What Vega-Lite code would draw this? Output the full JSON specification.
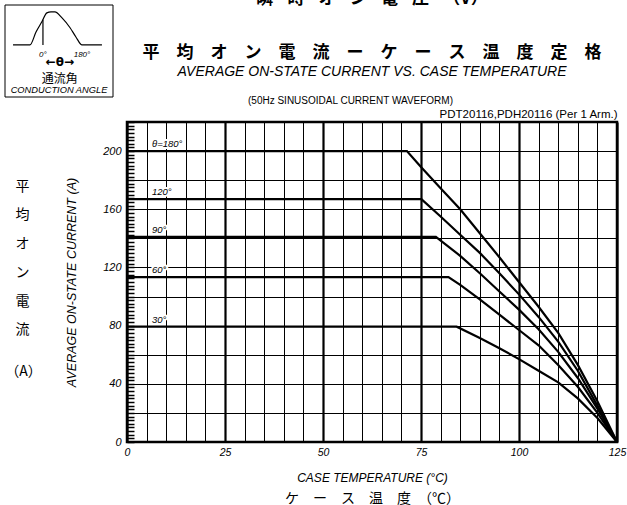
{
  "$schema": "https://vega.github.io/schema/vega-lite/v6.json",
  "width": 490,
  "height": 320,
  "autosize": {"type": "none"},
  "padding": {"left": 127, "top": 122, "right": 10, "bottom": 63},
  "background": "white",
  "config": {
    "view": {"stroke": "#000", "strokeWidth": 2.5},
    "font": "Liberation Sans",
    "axis": {"labelFont": "Liberation Sans", "titleFont": "Liberation Sans", "labelColor": "#000", "titleColor": "#000", "titleFontWeight": "normal"}
  },
  "title": {
    "text": ["瞬\u2002\u2004時\u2002\u2004オ\u2002\u2004ン\u2002\u2004電\u2002\u2004圧\u2002\u2004（V）\u3000\u3000\u3000", "\u3000\u2002平\u3000均\u3000オ\u3000ン\u3000電\u3000流\u3000ー\u3000ケ\u3000ー\u3000ス\u3000温\u3000度\u3000定\u3000格"],
    "subtitle": "AVERAGE ON-STATE CURRENT VS. CASE TEMPERATURE",
    "anchor": "middle",
    "frame": "group",
    "offset": -75,
    "font": "Noto Sans CJK JP",
    "fontSize": 17,
    "fontWeight": "bold",
    "lineHeight": 54,
    "color": "#000",
    "subtitleFont": "Liberation Sans",
    "subtitleFontSize": 14,
    "subtitleFontStyle": "italic",
    "subtitleColor": "#000",
    "subtitlePadding": 3
  },
  "datasets": {
    "curves": [
      {"angle": "θ=180°", "T": 0, "I": 200}, {"angle": "θ=180°", "T": 71.4, "I": 200}, {"angle": "θ=180°", "T": 75, "I": 189}, {"angle": "θ=180°", "T": 80, "I": 174.5}, {"angle": "θ=180°", "T": 85, "I": 160}, {"angle": "θ=180°", "T": 90, "I": 143.5}, {"angle": "θ=180°", "T": 95, "I": 127}, {"angle": "θ=180°", "T": 100, "I": 110}, {"angle": "θ=180°", "T": 105, "I": 93}, {"angle": "θ=180°", "T": 110, "I": 75}, {"angle": "θ=180°", "T": 115, "I": 53}, {"angle": "θ=180°", "T": 120, "I": 28}, {"angle": "θ=180°", "T": 125, "I": 0},
      {"angle": "120°", "T": 0, "I": 167}, {"angle": "120°", "T": 75.1, "I": 167}, {"angle": "120°", "T": 80, "I": 155}, {"angle": "120°", "T": 85, "I": 142.5}, {"angle": "120°", "T": 90, "I": 130}, {"angle": "120°", "T": 95, "I": 116}, {"angle": "120°", "T": 100, "I": 101.5}, {"angle": "120°", "T": 105, "I": 86}, {"angle": "120°", "T": 110, "I": 69}, {"angle": "120°", "T": 115, "I": 49}, {"angle": "120°", "T": 120, "I": 25}, {"angle": "120°", "T": 125, "I": 0},
      {"angle": "90°", "T": 0, "I": 141}, {"angle": "90°", "T": 78.8, "I": 141}, {"angle": "90°", "T": 85, "I": 128}, {"angle": "90°", "T": 90, "I": 116}, {"angle": "90°", "T": 95, "I": 103.5}, {"angle": "90°", "T": 100, "I": 91}, {"angle": "90°", "T": 105, "I": 77.5}, {"angle": "90°", "T": 110, "I": 62}, {"angle": "90°", "T": 115, "I": 44}, {"angle": "90°", "T": 120, "I": 23}, {"angle": "90°", "T": 125, "I": 0},
      {"angle": "60°", "T": 0, "I": 113.4}, {"angle": "60°", "T": 82, "I": 113.4}, {"angle": "60°", "T": 85, "I": 108}, {"angle": "60°", "T": 90, "I": 98}, {"angle": "60°", "T": 95, "I": 87.5}, {"angle": "60°", "T": 100, "I": 77}, {"angle": "60°", "T": 105, "I": 66.5}, {"angle": "60°", "T": 110, "I": 53}, {"angle": "60°", "T": 115, "I": 38}, {"angle": "60°", "T": 120, "I": 20}, {"angle": "60°", "T": 125, "I": 0},
      {"angle": "30°", "T": 0, "I": 79.3}, {"angle": "30°", "T": 84.1, "I": 79.3}, {"angle": "30°", "T": 90, "I": 71.5}, {"angle": "30°", "T": 95, "I": 64.5}, {"angle": "30°", "T": 100, "I": 57}, {"angle": "30°", "T": 105, "I": 49}, {"angle": "30°", "T": 110, "I": 41}, {"angle": "30°", "T": 115, "I": 30}, {"angle": "30°", "T": 120, "I": 16.5}, {"angle": "30°", "T": 125, "I": 0}
    ],
    "wave": [
      {"phase": -138, "amp": 0}, {"phase": -60, "amp": 0}, {"phase": -32, "amp": 0.39}, {"phase": -5, "amp": 0.7}, {"phase": 18, "amp": 0.97}, {"phase": 37, "amp": 1.0}, {"phase": 55, "amp": 1.0}, {"phase": 88, "amp": 0.82}, {"phase": 125, "amp": 0.52}, {"phase": 152, "amp": 0.24}, {"phase": 180, "amp": 0}, {"phase": 272, "amp": 0}
    ],
    "firing": [{"phase": 0, "amp": 0.76}],
    "iconText": [
      {"text": "0°", "role": "deg", "phase": 0, "amp": -0.3},
      {"text": "180°", "role": "deg", "phase": 180, "amp": -0.3},
      {"text": "←θ→", "role": "span", "phase": 78, "amp": -0.52},
      {"text": "通流角", "role": "jp", "phase": 78, "amp": -1.03},
      {"text": "CONDUCTION ANGLE", "role": "en", "phase": 74, "amp": -1.38}
    ]
  },
  "layer": [
    {
      "layer": [
        {
          "data": {"name": "curves"},
          "mark": {"type": "line", "color": "#000", "strokeWidth": 2.2},
          "encoding": {
            "x": {
              "field": "T", "type": "quantitative",
              "scale": {"domain": [0, 125], "nice": false},
              "axis": {
                "orient": "bottom",
                "values": [0, 5, 10, 15, 20, 25, 30, 35, 40, 45, 50, 55, 60, 65, 70, 75, 80, 85, 90, 95, 100, 105, 110, 115, 120, 125],
                "grid": true, "gridColor": "#000",
                "gridWidth": {"condition": {"test": "datum.value % 25 === 0", "value": 2.2}, "value": 1},
                "ticks": false, "domain": false,
                "labelExpr": "datum.value % 25 === 0 ? datum.label : ''",
                "labelFontStyle": "italic", "labelFontSize": 10.5, "labelPadding": 5,
                "labelOverlap": false, "labelFlush": false,
                "title": "CASE TEMPERATURE (°C)", "titleFontStyle": "italic", "titleFontSize": 12, "titlePadding": 15
              }
            },
            "y": {
              "field": "I", "type": "quantitative",
              "scale": {"domain": [0, 220], "nice": false},
              "axis": {
                "orient": "left",
                "values": [0, 2.5, 5, 7.5, 10, 12.5, 15, 17.5, 20, 22.5, 25, 27.5, 30, 32.5, 35, 37.5, 40, 42.5, 45, 47.5, 50, 52.5, 55, 57.5, 60, 62.5, 65, 67.5, 70, 72.5, 75, 77.5, 80, 82.5, 85, 87.5, 90, 92.5, 95, 97.5, 100, 102.5, 105, 107.5, 110, 112.5, 115, 117.5, 120, 122.5, 125, 127.5, 130, 132.5, 135, 137.5, 140, 142.5, 145, 147.5, 150, 152.5, 155, 157.5, 160, 162.5, 165, 167.5, 170, 172.5, 175, 177.5, 180, 182.5, 185, 187.5, 190, 192.5, 195, 197.5, 200, 202.5, 205, 207.5, 210, 212.5, 215, 217.5, 220],
                "grid": true, "gridColor": "#000", "gridWidth": 1,
                "gridOpacity": {"condition": {"test": "datum.value % 20 === 0", "value": 1}, "value": 0},
                "ticks": true, "tickSize": -7, "tickWidth": 1.5, "tickColor": "#000",
                "domain": false,
                "labelExpr": "datum.value % 40 === 0 && datum.value <= 200 ? datum.label : ''",
                "labelFontStyle": "italic", "labelFontSize": 11, "labelPadding": 13, "labelOverlap": false,
                "title": "AVERAGE ON-STATE CURRENT (A)", "titleFontStyle": "italic", "titleFontSize": 12.5, "titlePadding": 24
              }
            },
            "detail": {"field": "angle", "type": "nominal"}
          }
        },
        {
          "data": {"name": "curves"},
          "transform": [{"filter": "datum.T === 0"}],
          "mark": {"type": "text", "align": "left", "baseline": "alphabetic", "dx": 25, "dy": -4, "fontSize": 9.5, "fontStyle": "italic", "fill": "white", "stroke": "white", "strokeWidth": 4, "strokeJoin": "round"},
          "encoding": {
            "x": {
              "field": "T", "type": "quantitative",
              "axis": {
                "orient": "top", "labels": false, "ticks": false, "domain": false, "grid": false,
                "title": "PDT20116,PDH20116 (Per 1 Arm.)", "titleAnchor": "end", "titleAlign": "right",
                "titleFontSize": 11.5, "titlePadding": 2.5
              }
            },
            "y": {
              "field": "I", "type": "quantitative",
              "axis": {
                "orient": "left", "labels": false, "ticks": false, "domain": false, "grid": false,
                "title": ["平", "均", "オ", "ン", "電", "流"], "titleAngle": 0, "titleAlign": "center", "titleBaseline": "top",
                "titleFont": "Noto Sans CJK JP", "titleFontSize": 14, "titleLineHeight": 28.7,
                "titleX": -105, "titleY": 57.3
              }
            },
            "text": {"field": "angle", "type": "nominal"}
          }
        },
        {
          "data": {"name": "curves"},
          "transform": [{"filter": "datum.T === 0"}],
          "mark": {"type": "text", "align": "left", "baseline": "alphabetic", "dx": 25, "dy": -4, "fontSize": 9.5, "fontStyle": "italic", "fill": "#000"},
          "encoding": {
            "x": {
              "field": "T", "type": "quantitative",
              "axis": {
                "orient": "bottom", "labels": false, "ticks": false, "domain": false, "grid": false,
                "title": "ケ\u3000ー\u3000ス\u3000温\u3000度\u3000（℃）",
                "titleFont": "Noto Sans CJK JP", "titleFontSize": 14, "titlePadding": 49
              }
            },
            "y": {
              "field": "I", "type": "quantitative",
              "axis": {
                "orient": "left", "labels": false, "ticks": false, "domain": false, "grid": false,
                "title": "（A）", "titleAngle": 0, "titleAlign": "center", "titleBaseline": "alphabetic",
                "titleFont": "Noto Sans CJK JP", "titleFontSize": 14,
                "titleX": -104, "titleY": 253
              }
            },
            "text": {"field": "angle", "type": "nominal"}
          }
        }
      ],
      "resolve": {"axis": {"x": "independent", "y": "independent"}}
    },
    {
      "layer": [
        {
          "data": {"values": [{}]},
          "mark": {"type": "rect", "fill": null, "fillOpacity": 0, "stroke": "#000", "strokeWidth": 1},
          "encoding": {
            "x": {
              "datum": -175, "type": "quantitative",
              "scale": {"domain": [-175, 323], "range": [-122, -14], "nice": false, "zero": false},
              "axis": {
                "orient": "top", "labels": false, "ticks": false, "domain": false, "grid": false,
                "title": "(50Hz SINUSOIDAL CURRENT WAVEFORM)", "titleFontSize": 10,
                "titleAlign": "center", "titleBaseline": "alphabetic", "titleX": 223, "titleY": -19
              }
            },
            "x2": {"datum": 323},
            "y": {
              "datum": -1.58, "type": "quantitative",
              "scale": {"domain": [-1.58, 1.21], "range": [-25, -117], "nice": false, "zero": false},
              "axis": null
            },
            "y2": {"datum": 1.21}
          }
        },
        {
          "data": {"name": "wave"},
          "mark": {"type": "line", "color": "#000", "strokeWidth": 1.2, "interpolate": "monotone"},
          "encoding": {
            "x": {"field": "phase", "type": "quantitative", "axis": null},
            "y": {"field": "amp", "type": "quantitative", "axis": null}
          }
        },
        {
          "data": {"name": "firing"},
          "mark": {"type": "rule", "color": "#000", "strokeWidth": 1.2},
          "encoding": {
            "x": {"field": "phase", "type": "quantitative", "axis": null},
            "y": {"field": "amp", "type": "quantitative", "axis": null},
            "y2": {"datum": 0}
          }
        },
        {
          "data": {"name": "iconText"},
          "transform": [{"filter": "datum.role === 'deg'"}],
          "mark": {"type": "text", "fontSize": 8, "fontStyle": "italic", "baseline": "middle", "fill": "#000"},
          "encoding": {
            "x": {"field": "phase", "type": "quantitative", "axis": null},
            "y": {"field": "amp", "type": "quantitative", "axis": null},
            "text": {"field": "text", "type": "nominal"}
          }
        },
        {
          "data": {"name": "iconText"},
          "transform": [{"filter": "datum.role === 'span'"}],
          "mark": {"type": "text", "font": "DejaVu Sans", "fontSize": 12, "fontWeight": "bold", "baseline": "middle", "fill": "#000"},
          "encoding": {
            "x": {"field": "phase", "type": "quantitative", "axis": null},
            "y": {"field": "amp", "type": "quantitative", "axis": null},
            "text": {"field": "text", "type": "nominal"}
          }
        },
        {
          "data": {"name": "iconText"},
          "transform": [{"filter": "datum.role === 'jp'"}],
          "mark": {"type": "text", "font": "Noto Sans CJK JP", "fontSize": 12, "baseline": "middle", "fill": "#000"},
          "encoding": {
            "x": {"field": "phase", "type": "quantitative", "axis": null},
            "y": {"field": "amp", "type": "quantitative", "axis": null},
            "text": {"field": "text", "type": "nominal"}
          }
        },
        {
          "data": {"name": "iconText"},
          "transform": [{"filter": "datum.role === 'en'"}],
          "mark": {"type": "text", "fontSize": 9.3, "fontStyle": "italic", "baseline": "middle", "fill": "#000"},
          "encoding": {
            "x": {"field": "phase", "type": "quantitative", "axis": null},
            "y": {"field": "amp", "type": "quantitative", "axis": null},
            "text": {"field": "text", "type": "nominal"}
          }
        }
      ],
      "resolve": {"axis": {"x": "independent", "y": "independent"}}
    }
  ],
  "resolve": {"scale": {"x": "independent", "y": "independent"}}
}
